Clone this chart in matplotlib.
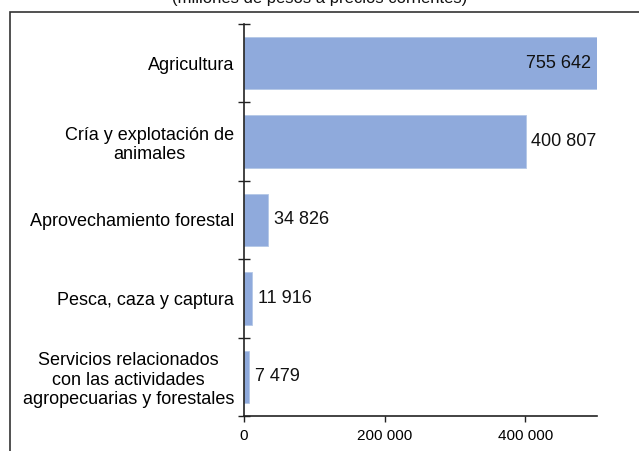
import matplotlib
matplotlib.use("Agg")
import matplotlib.pyplot as plt
from matplotlib.patches import Rectangle
from matplotlib.ticker import FuncFormatter

categories = ["Agricultura",
              "Cría y explotación de\nanimales",
              "Aprovechamiento forestal",
              "Pesca, caza y captura",
              "Servicios relacionados\ncon las actividades\nagropecuarias y forestales"]
values = [755642, 400807, 34826, 11916, 7479]
value_labels = ["755 642", "400 807", "34 826", "11 916", "7 479"]
xticks = [0, 200000, 400000]
xtick_labels = ["0", "200 000", "400 000"]
subtitle = "(millones de pesos a precios corrientes)"

plt.rcParams['font.family'] = ['Liberation Sans', 'DejaVu Sans']

W, H = 639, 451
fig = plt.figure(figsize=(W/100, H/100), dpi=100)
ax = fig.add_axes([244/W, 1-416/H, (597-244)/W, (416-24)/H])

n = len(categories)
ypos = list(range(n))
bar_color = "#8FAADC"
ax.barh(ypos, values, height=0.67, color=bar_color, edgecolor="#B4C7E7", linewidth=0.6)
xmax = 502000
ax.set_xlim(0, xmax)
ax.set_ylim(n-0.5, -0.5)

for y, v, lab in zip(ypos, values, value_labels):
    if v > xmax:
        ax.annotate(lab, (xmax, y), xytext=(-4, 0), textcoords="offset points",
                    ha="right", va="center", fontsize=13, color="#111111")
    else:
        ax.annotate(lab, (v, y), xytext=(4, 0), textcoords="offset points",
                    ha="left", va="center", fontsize=13, color="#111111")

ax.set_yticks(ypos)
ax.set_yticklabels(categories, fontsize=13, multialignment="center")
ax.tick_params(axis="y", which="major", length=0, pad=7)
ax.set_yticks([i - 0.5 for i in range(n+1)], minor=True)
ax.tick_params(axis="y", which="minor", length=8, direction="inout", width=1, color="#222222")

ax.set_xticks(xticks)
ax.set_xticklabels(xtick_labels, fontsize=11)
ax.tick_params(axis="x", length=4, direction="out", width=1, color="#222222", pad=5)

for s in ["top", "right"]:
    ax.spines[s].set_visible(False)
for s in ["left", "bottom"]:
    ax.spines[s].set_color("#222222")
    ax.spines[s].set_linewidth(1.2)

# outer frame (cut by figure edge)
fig.patches.append(Rectangle((10/W, -0.2), 1.2, 1-11.7/H+0.2, transform=fig.transFigure,
                             fill=False, edgecolor="#333333", linewidth=1.2))

fig.text(0.5, 1-3/H, subtitle, ha="center", va="baseline", fontsize=12, color="#111111")

fig.savefig("out.png", dpi=100)
